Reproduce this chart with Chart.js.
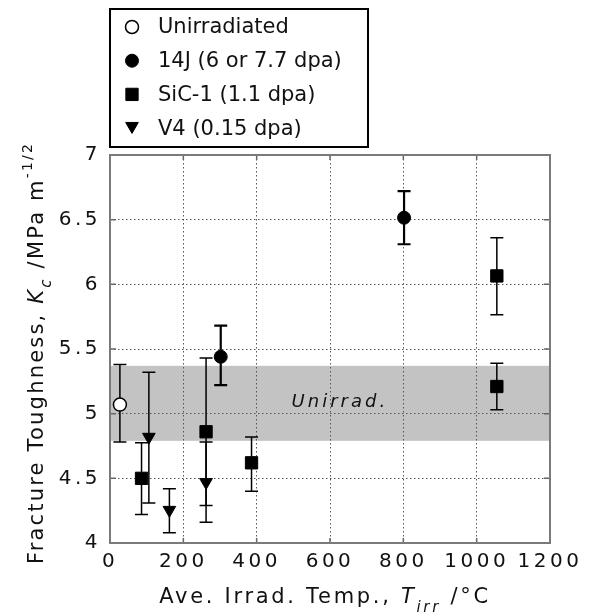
<!DOCTYPE html>
<html>
<head>
<meta charset="utf-8">
<script src="https://cdn.jsdelivr.net/npm/chart.js@4/dist/chart.umd.min.js"></script>
<style>
  html, body { margin: 0; padding: 0; background: #fff; }
  #wrap { width: 591px; height: 616px; }
</style>
</head>
<body>
<div id="wrap"><canvas id="kcChart"></canvas></div>
<script>
// ── 데이터 ─────────────────────────────────────────────
var seriesNames = ["Unirradiated", "14J (6 or 7.7 dpa)", "SiC-1 (1.1 dpa)", "V4 (0.15 dpa)"];

var unirrT  = [27];
var unirrKc = [5.07];
var unirrLo = [4.78];
var unirrHi = [5.38];

var j14T  = [302, 802];
var j14Kc = [5.44, 6.515];
var j14Lo = [5.22, 6.31];
var j14Hi = [5.68, 6.72];

var sicT  = [86, 262, 386, 1055, 1055];
var sicKc = [4.50, 4.86, 4.62, 6.065, 5.21];
var sicLo = [4.22, 4.29, 4.40, 5.765, 5.03];
var sicHi = [4.776, 5.43, 4.82, 6.36, 5.39];

var v4T  = [106, 162, 262];
var v4Kc = [4.82, 4.255, 4.47];
var v4Lo = [4.31, 4.08, 4.16];
var v4Hi = [5.32, 4.42, 4.78];

// 비조사 범위 (음영 밴드)
var bandLo = 4.79, bandHi = 5.37;
var bandLabel = "Unirrad.";
var bandLabelAt = { x: 627, y: 5.09 };

var xMin = 0, xMax = 1200, xStep = 200;
var yMin = 4, yMax = 7, yStep = 0.5;

function toPoints(xs, ys, lo, hi) {
  return xs.map(function(x, i) { return { x: x, y: ys[i], yMin: lo[i], yMax: hi[i] }; });
}

// ── 리치 텍스트 (첨자) ─────────────────────────────────
var FONT = "'DejaVu Sans', Verdana, sans-serif";
function segWidth(ctx, segs) {
  var w = 0;
  segs.forEach(function(s) { ctx.font = s.font; w += ctx.measureText(s.text).width; });
  return w;
}
function drawSegs(ctx, segs, x, y) {
  segs.forEach(function(s) {
    ctx.font = s.font;
    ctx.fillText(s.text, x, y + (s.dy || 0));
    x += ctx.measureText(s.text).width;
  });
}

var xTitle = [
  { text: "Ave. Irrad. Temp., ", font: "21px " + FONT },
  { text: "T", font: "italic 21px " + FONT },
  { text: "irr", font: "italic 15px " + FONT, dy: 9 },
  { text: " /°C", font: "21px " + FONT }
];
var yTitle = [
  { text: "Fracture Toughness, ", font: "21px " + FONT },
  { text: "K", font: "italic 21px " + FONT },
  { text: "c", font: "italic 15px " + FONT, dy: 8 },
  { text: " /MPa m", font: "21px " + FONT },
  { text: "-1/2", font: "14px " + FONT, dy: -11 }
];

// ── 플러그인 ───────────────────────────────────────────
var bandPlugin = {
  id: "band",
  beforeDraw: function(chart) {
    var ctx = chart.ctx, a = chart.chartArea, y = chart.scales.y;
    ctx.letterSpacing = "3.5px";
    ctx.save();
    ctx.fillStyle = "#c3c3c3";
    var t = y.getPixelForValue(bandHi), b = y.getPixelForValue(bandLo);
    ctx.fillRect(a.left, t, a.right - a.left, b - t);
    ctx.restore();
  },
  afterDatasetsDraw: function(chart) {
    var ctx = chart.ctx, x = chart.scales.x, y = chart.scales.y;
    ctx.save();
    ctx.letterSpacing = "3px";
    ctx.fillStyle = "#111";
    ctx.font = "italic 18px " + FONT;
    ctx.textAlign = "center";
    ctx.textBaseline = "middle";
    ctx.fillText(bandLabel, x.getPixelForValue(bandLabelAt.x), y.getPixelForValue(bandLabelAt.y));
    ctx.restore();
  }
};

var errorBarPlugin = {
  id: "errorBars",
  beforeDatasetsDraw: function(chart) {
    var ctx = chart.ctx, x = chart.scales.x, y = chart.scales.y;
    ctx.save();
    ctx.strokeStyle = "#000";
    chart.data.datasets.forEach(function(ds) {
      ctx.lineWidth = ds.errWidth || 1.5;
      ds.data.forEach(function(p) {
        var px = x.getPixelForValue(p.x);
        var t = y.getPixelForValue(p.yMax), b = y.getPixelForValue(p.yMin);
        ctx.beginPath();
        ctx.moveTo(px, t); ctx.lineTo(px, b);
        ctx.moveTo(px - 6.5, t); ctx.lineTo(px + 6.5, t);
        ctx.moveTo(px - 6.5, b); ctx.lineTo(px + 6.5, b);
        ctx.stroke();
      });
    });
    ctx.restore();
  }
};

var framePlugin = {
  id: "frame",
  afterDraw: function(chart) {
    var ctx = chart.ctx, a = chart.chartArea, xs = chart.scales.x, ys = chart.scales.y;
    ctx.save();
    // 안쪽 눈금
    ctx.strokeStyle = "#666"; ctx.lineWidth = 1.5;
    ctx.beginPath();
    ys.ticks.forEach(function(t) {
      var py = ys.getPixelForValue(t.value);
      ctx.moveTo(a.left, py); ctx.lineTo(a.left + 6, py);
      ctx.moveTo(a.right, py); ctx.lineTo(a.right - 6, py);
    });
    xs.ticks.forEach(function(t) {
      var px = xs.getPixelForValue(t.value);
      ctx.moveTo(px, a.bottom); ctx.lineTo(px, a.bottom - 5);
      ctx.moveTo(px, a.top); ctx.lineTo(px, a.top + 5);
    });
    ctx.stroke();
    ctx.strokeStyle = "#7a7a7a"; ctx.lineWidth = 2;
    ctx.strokeRect(a.left, a.top, a.right - a.left, a.bottom - a.top);

    // 축 제목
    ctx.fillStyle = "#111";
    ctx.textBaseline = "alphabetic";
    ctx.textAlign = "left";
    ctx.letterSpacing = "2.7px";
    var w = segWidth(ctx, xTitle);
    drawSegs(ctx, xTitle, 325 - w / 2, 603);
    ctx.save();
    ctx.letterSpacing = "2.2px";
    ctx.translate(43, 353);
    ctx.rotate(-Math.PI / 2);
    w = segWidth(ctx, yTitle);
    drawSegs(ctx, yTitle, -w / 2, 0);
    ctx.restore();

    // 범례
    ctx.letterSpacing = "0px";
    ctx.strokeStyle = "#000"; ctx.lineWidth = 2;
    ctx.strokeRect(110, 9, 258, 138);
    ctx.font = "21px " + FONT;
    ctx.textBaseline = "middle";
    chart.data.datasets.forEach(function(ds, i) {
      var cy = 27 + i * 33.7;
      ctx.fillStyle = ds.backgroundColor;
      ctx.strokeStyle = ds.borderColor;
      ctx.lineWidth = ds.borderWidth;
      Chart.helpers.drawPoint(ctx, {
        pointStyle: ds.pointStyle, radius: ds.pointRadius,
        rotation: ds.rotation || 0, borderWidth: ds.borderWidth
      }, 132, cy + (ds.pointStyle === "triangle" ? -2 : 0));
      ctx.fillStyle = "#111";
      ctx.fillText(ds.label, 158, cy + 1);
    });
    ctx.restore();
  }
};

// ── 차트 ───────────────────────────────────────────────
new Chart(document.getElementById("kcChart").getContext("2d"), {
  type: "scatter",
  data: {
    datasets: [
      { label: seriesNames[0], data: toPoints(unirrT, unirrKc, unirrLo, unirrHi),
        pointStyle: "circle", pointRadius: 6.5, backgroundColor: "#fff", borderColor: "#000", borderWidth: 1.5, errWidth: 1.5 },
      { label: seriesNames[1], data: toPoints(j14T, j14Kc, j14Lo, j14Hi),
        pointStyle: "circle", pointRadius: 6.5, backgroundColor: "#000", borderColor: "#000", borderWidth: 1, errWidth: 2.2 },
      { label: seriesNames[2], data: toPoints(sicT, sicKc, sicLo, sicHi),
        pointStyle: "rect", pointRadius: 8.7, backgroundColor: "#000", borderColor: "#000", borderWidth: 1, errWidth: 1.5 },
      { label: seriesNames[3], data: toPoints(v4T, v4Kc, v4Lo, v4Hi),
        pointStyle: "triangle", rotation: 180, pointRadius: 7.3, backgroundColor: "#000", borderColor: "#000", borderWidth: 1, errWidth: 1.5 }
    ]
  },
  options: {
    responsive: true, maintainAspectRatio: false, animation: false,
    layout: { padding: { top: 155, right: 41, left: 0, bottom: 0 } },
    plugins: { legend: { display: false }, tooltip: { enabled: false } },
    scales: {
      x: {
        type: "linear", min: xMin, max: xMax,
        afterFit: function(s) { s.height = 73; },
        ticks: { stepSize: xStep, padding: 7, color: "#111", font: { family: FONT, size: 20 },
                 callback: function(v) { return String(v); } },
        grid: { color: "#555", lineWidth: 1, drawTicks: false },
        border: { display: false, dash: [1.5, 2.5] }
      },
      y: {
        type: "linear", min: yMin, max: yMax,
        afterFit: function(s) { s.width = 110; },
        ticks: { stepSize: yStep, padding: 9, color: "#111", font: { family: FONT, size: 20 },
                 callback: function(v) { return String(v); } },
        grid: { color: "#555", lineWidth: 1, drawTicks: false },
        border: { display: false, dash: [1.5, 2.5] }
      }
    }
  },
  plugins: [bandPlugin, errorBarPlugin, framePlugin]
});
</script>
</body>
</html>
